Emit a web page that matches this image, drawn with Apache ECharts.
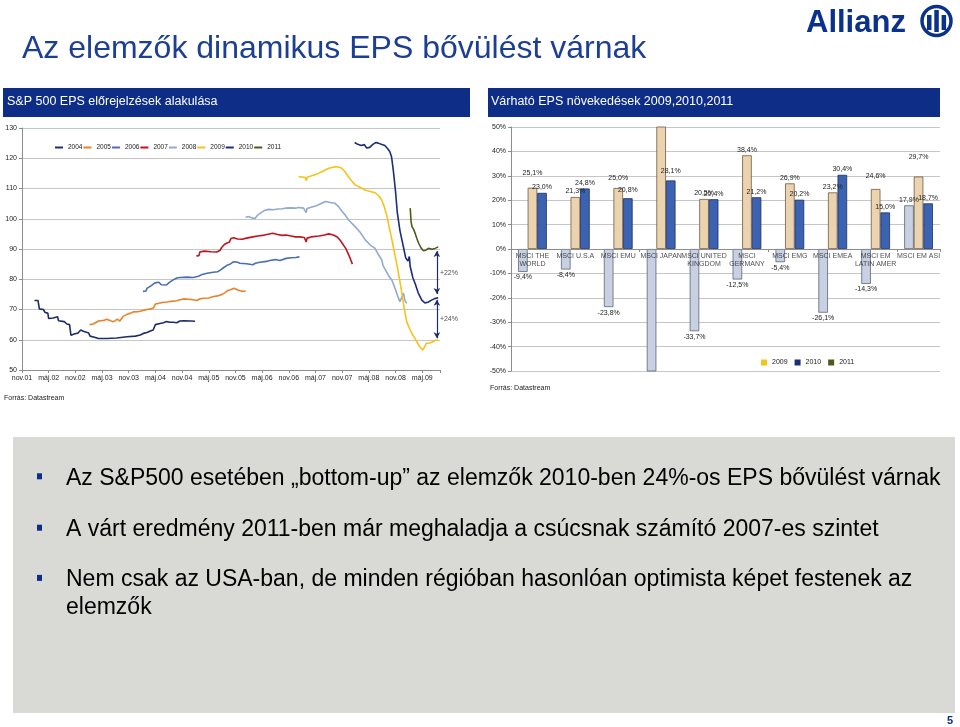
<!DOCTYPE html>
<html lang="hu">
<head>
<meta charset="utf-8">
<title>Az elemzők dinamikus EPS bővülést várnak</title>
<script src="https://cdn.jsdelivr.net/npm/echarts@6.0.0/dist/echarts.min.js"></script>
<style>
  html, body { margin: 0; padding: 0; background: #fff; }
  #chart { width: 960px; height: 727px; }
</style>
</head>
<body>
<div id="chart"></div>
<script>
// bal grafikon: S&P 500 EPS előrejelzések, x = hónapok 2001 novembere óta
const monthTicks = ['nov.01', 'máj.02', 'nov.02', 'máj.03', 'nov.03', 'máj.04', 'nov.04', 'máj.05',
  'nov.05', 'máj.06', 'nov.06', 'máj.07', 'nov.07', 'máj.08', 'nov.08', 'máj.09']
const epsYears = ['2004', '2005', '2006', '2007', '2008', '2009', '2010', '2011']

const eps2004 = [[2.8, 73], [3.6, 73], [3.9, 70.2], [4.8, 70], [5.2, 69], [5.8, 68.8], [6.0, 67], [7.0, 67.2],
  [7.4, 67.8], [8.0, 67.6], [8.2, 66.3], [9.5, 66], [10.1, 65.2], [10.7, 65], [11.0, 61.5], [11.9, 62],
  [12.6, 62.2], [13.2, 63.2], [13.8, 62.8], [14.2, 62.4], [15.0, 62.2], [15.3, 61.2], [16.3, 60.8],
  [17.2, 60.4], [19.0, 60.4], [21.3, 60.6], [23.6, 61], [25.5, 61.2], [26.6, 61.6], [27.5, 62.2],
  [28.1, 62.4], [29.0, 63], [29.5, 63.2], [30.0, 65], [31.0, 65.4], [31.8, 65.6], [32.5, 66], [33.3, 65.8],
  [34.0, 65.8], [34.8, 65.6], [35.5, 66.2], [36.3, 66.3], [38.0, 66.2], [38.9, 66.1]]
const eps2005 = [[15.2, 65], [16.0, 65.2], [16.3, 65.8], [17.2, 66.2], [18.5, 66.4], [19.0, 66.8], [19.8, 66.4],
  [20.3, 66], [20.9, 66.2], [21.4, 66.8], [22.0, 66.2], [22.4, 67], [22.8, 67.8], [23.6, 68.4], [24.5, 68.8],
  [25.0, 69.2], [26.0, 69.3], [26.6, 69.4], [27.5, 69.8], [28.1, 70], [29.0, 70.2], [29.6, 70.6], [30.0, 71.8],
  [30.6, 72], [31.5, 72.3], [32.6, 72.5], [33.5, 72.7], [34.8, 72.9], [35.5, 73.2], [36.3, 73.5], [37.5, 73.4],
  [38.5, 73.2], [39.3, 73], [40.0, 73.5], [40.8, 73.7], [42.0, 73.8], [43.1, 74.3], [44.0, 74.5], [45.0, 75],
  [45.6, 75.5], [46.3, 76.3], [47.0, 76.6], [47.7, 77], [48.3, 76.6], [49.0, 76.2], [49.6, 76], [50.3, 76.1]]
const eps2006 = [[27.2, 76], [27.9, 76.1], [28.1, 77], [29.0, 77.8], [29.9, 78.8], [30.8, 79], [31.3, 78.2],
  [32.5, 78.1], [33.0, 78.8], [33.3, 79.3], [34.0, 79.8], [34.8, 80.4], [35.5, 80.6], [37.1, 80.7], [38.5, 80.6],
  [39.7, 81], [40.5, 81.6], [41.6, 82], [43.0, 82.3], [44.0, 82.5], [44.6, 83], [45.3, 83.8], [46.1, 84.6],
  [46.8, 85], [47.6, 85.8], [48.5, 85.6], [49.0, 85.3], [50.5, 85.1], [51.9, 84.8], [52.5, 85.3], [53.5, 85.6],
  [55.0, 85.9], [55.7, 86.2], [57.0, 86.5], [58.0, 86.2], [59.4, 86.9], [60.5, 87.1], [61.5, 87.2], [62.4, 87.4]]
const eps2007 = [[39.2, 87.7], [39.8, 87.8], [40.0, 89], [41.0, 89.3], [42.5, 89.1], [43.8, 89], [44.5, 89.5],
  [44.9, 90.5], [45.5, 91.5], [46.1, 92], [46.6, 92.2], [47.0, 93.5], [47.6, 93.7], [48.5, 93.3], [49.5, 93.2],
  [50.5, 93.6], [51.9, 94], [53.0, 94.3], [54.5, 94.6], [56.4, 95.2], [57.5, 94.8], [58.5, 94.5], [59.4, 94.6],
  [60.5, 94.3], [61.5, 94], [62.4, 94], [63.5, 93.8], [63.9, 92.3], [64.1, 93.6], [65.0, 94], [66.8, 94.3],
  [68.0, 94.6], [69.0, 95], [70.0, 94.6], [70.9, 94], [71.6, 92.8], [72.8, 90.2], [73.5, 88], [74.3, 85]]
const eps2008 = [[50.3, 100.5], [51.0, 100.7], [51.6, 100.3], [52.4, 100.1], [53.0, 101.2], [53.8, 102],
  [54.5, 102.7], [55.4, 103.1], [56.5, 103], [57.5, 103.2], [58.5, 103.3], [59.2, 103.5], [60.5, 103.6],
  [61.5, 103.5], [62.2, 103.7], [63.3, 103.5], [63.9, 102], [64.1, 103.4], [65.0, 103.8], [66.0, 104.2],
  [66.7, 104.6], [67.5, 105.2], [68.2, 105.7], [69.3, 105.4], [70.4, 105.1], [71.2, 104], [72.0, 102.4],
  [72.7, 101.2], [73.5, 99.5], [74.9, 97.4], [76.0, 95.6], [77.2, 93], [78.3, 91.3], [79.4, 90.2], [80.2, 88],
  [80.9, 86.4], [81.2, 84.5], [81.7, 83.2], [82.5, 81], [83.2, 79.7], [84.0, 76.5], [84.6, 74], [85.0, 72.6],
  [85.4, 74], [85.8, 75.4], [86.1, 73], [86.5, 72]]
const eps2009 = [[62.2, 113.9], [63.0, 113.8], [63.7, 113.6], [63.9, 112.6], [64.2, 113.8], [65.0, 114.1],
  [66.0, 114.6], [66.7, 115], [67.5, 115.6], [68.3, 116.2], [69.0, 116.7], [70.4, 117.2], [71.2, 117.1],
  [71.9, 116.7], [72.6, 115.6], [73.4, 113.9], [74.2, 112.4], [74.9, 111.2], [76.0, 110.4], [77.2, 109.5],
  [78.3, 109], [79.4, 108.6], [80.2, 107.6], [80.9, 106.2], [81.5, 103.8], [82.1, 100.7], [82.6, 97],
  [83.2, 93], [83.8, 88.5], [84.4, 84.2], [85.2, 77.5], [85.9, 70.9], [86.5, 66], [87.1, 63.8], [87.8, 61.8],
  [88.6, 59.9], [89.3, 58], [90.1, 56.6], [90.5, 57.5], [90.9, 58.8], [91.7, 58.9], [92.4, 59.3],
  [93.0, 59.8], [93.6, 59.9]]
const eps2010 = [[74.8, 125.2], [75.5, 124.6], [76.3, 124.2], [77.0, 124.5], [77.5, 123.4], [78.2, 123.6],
  [78.9, 124.6], [79.6, 125.2], [80.1, 125], [80.8, 124.6], [81.6, 124.2], [82.2, 123.2], [82.7, 122.2],
  [83.1, 120.5], [83.5, 116], [84.0, 109], [84.4, 102], [85.0, 96], [85.8, 90.5], [86.3, 87], [86.8, 86],
  [87.1, 87.5], [87.3, 84.2], [87.9, 80.5], [88.4, 78.6], [89.1, 75.5], [89.9, 73.1], [90.6, 72.2],
  [91.3, 72.4], [92.1, 73.1], [92.8, 73.6], [93.6, 73.9]]
const eps2011 = [[87.3, 103.5], [87.5, 99], [87.7, 97.4], [88.1, 96.4], [88.4, 95.2], [88.8, 93.5], [89.2, 91.9],
  [89.8, 90.2], [90.3, 89.4], [90.9, 89.7], [91.4, 90.2], [92.2, 89.9], [92.9, 90.2], [93.6, 90.7]]
const gapTexts = ['+22%', '+24%']

// jobb grafikon: várható EPS növekedés régiónként
const regions = ['MSCI THE\nWORLD', 'MSCI U.S.A', 'MSCI EMU', 'MSCI JAPAN', 'MSCI UNITED\nKINGDOM',
  'MSCI\nGERMANY', 'MSCI EMG', 'MSCI EMEA', 'MSCI EM\nLATIN AMER', 'MSCI EM ASI']
const growthYears = ['2009', '2010', '2011']
const growth2009 = [-9.4, -8.4, -23.8, -58, -33.7, -12.5, -5.4, -26.1, -14.3, 17.9]
const growth2010 = [25.1, 21.3, 25.0, 64, 20.5, 38.4, 26.9, 23.2, 24.6, 29.7]
const growth2011 = [23.0, 24.8, 20.8, 28.1, 20.4, 21.2, 20.2, 30.4, 15.0, 18.7]

const bullets = [
  'Az S&P500 esetében „bottom-up” az elemzők 2010-ben 24%-os EPS bővülést várnak',
  'A várt eredmény 2011-ben már meghaladja a csúcsnak számító 2007-es szintet',
  'Nem csak az USA-ban, de minden régióban hasonlóan optimista képet festenek az\nelemzők',
]

const FONT = '"Liberation Sans", Arial, sans-serif'
const BLUE = '#0E2D86'
const GRID_LINE = '#C6C6C6'
const AXIS_LINE = '#8C8C8C'

const epsColors = ['#1F2C6C', '#E8832C', '#4A6DB4', '#C0141E', '#92A9D1', '#F4C41A', '#1B2E78', '#4E591C']
const epsSeries = [eps2004, eps2005, eps2006, eps2007, eps2008, eps2009, eps2010, eps2011]
const barFill = ['#C8D0E2', '#ECD3AF', '#3B63B2']
const barBorder = ['#5B667E', '#6E5A44', '#1E2F63']
const growthSeries = [growth2009, growth2010, growth2011]
// néhány címke az eredetin feljebb csúszott (sorozat-kategória: px)
const labelLift = { '1-0': 9, '1-2': 4, '2-2': 3, '2-3': 4, '1-8': 7, '1-9': 14 }

const pct = (v) => v.toFixed(1).replace('.', ',') + '%'
const last = (arr) => arr[arr.length - 1]

// a +22% / +24% nyilak a sorozatok végpontjai között
const arrowX = 93.3
const gaps = [
  [last(eps2011)[1] - 1.4, last(eps2010)[1] + 1.2],
  [last(eps2010)[1] - 0.7, last(eps2009)[1] + 0.6],
]

const lineSeries = epsSeries.map((data, i) => ({
  name: epsYears[i],
  type: 'line',
  xAxisIndex: 0,
  yAxisIndex: 0,
  data,
  symbol: 'none',
  lineStyle: { width: 1.6, color: epsColors[i] },
  itemStyle: { color: epsColors[i] },
  z: 3,
}))

const gapSeries = {
  name: 'gap',
  type: 'scatter',
  xAxisIndex: 0,
  yAxisIndex: 0,
  symbolSize: 0,
  silent: true,
  data: gaps.map((g, i) => ({
    value: [arrowX, (g[0] + g[1]) / 2],
    label: { show: true, position: 'right', distance: 3, formatter: gapTexts[i] },
  })),
  label: { fontSize: 7, color: '#222', fontFamily: FONT },
  markLine: {
    silent: true,
    symbol: ['arrow', 'arrow'],
    symbolSize: [5, 6],
    label: { show: false },
    lineStyle: { color: '#1F2C6C', width: 1.2, type: 'solid' },
    data: gaps.map((g) => [{ coord: [arrowX, g[0]] }, { coord: [arrowX, g[1]] }]),
  },
}

const barSeries = growthSeries.map((vals, s) => ({
  name: growthYears[s],
  type: 'bar',
  xAxisIndex: 1,
  yAxisIndex: 1,
  barGap: '0%',
  barCategoryGap: '33%',
  itemStyle: { color: barFill[s], borderColor: barBorder[s], borderWidth: 0.8 },
  label: { fontSize: 7, color: '#222', fontFamily: FONT, distance: 2, formatter: (p) => pct(p.value) },
  data: vals.map((v, c) => ({
    value: v,
    label: {
      show: Math.abs(v) <= 50,
      position: v < 0 ? 'bottom' : 'top',
      offset: [0, -(labelLift[s + '-' + c] || 0)],
    },
  })),
  z: 2,
}))

// kategórianevek a 0%-os vonal alatt, ahogy az Excel-ábrán
const regionLabelSeries = {
  name: 'regions',
  type: 'scatter',
  xAxisIndex: 1,
  yAxisIndex: 1,
  symbolSize: 0,
  silent: true,
  z: 6,
  data: regions.map((r) => [r, 0]),
  label: {
    show: true, position: 'bottom', distance: 3,
    fontSize: 7, lineHeight: 8, color: '#222', fontFamily: FONT,
    formatter: (p) => p.value[0],
  },
}

const graphic = [
  { type: 'text', x: 22, y: 49, style: { text: 'Az elemzők dinamikus EPS bővülést várnak', fontSize: 32,
      fontFamily: FONT, fill: '#1C3F94', verticalAlign: 'middle' } },
  // Allianz logó
  { type: 'text', x: 806, y: 23, style: { text: 'Allianz', fontSize: 31, fontWeight: 'bold',
      fontFamily: FONT, fill: '#0A318C', verticalAlign: 'middle' } },
  { type: 'circle', shape: { cx: 936.5, cy: 21, r: 14.5 }, style: { fill: 'none', stroke: '#0A318C', lineWidth: 3.5 } },
  { type: 'rect', shape: { x: 927, y: 15, width: 4.5, height: 15 }, style: { fill: '#0A318C' } },
  { type: 'rect', shape: { x: 934.3, y: 10, width: 4.5, height: 22 }, style: { fill: '#0A318C' } },
  { type: 'rect', shape: { x: 941.6, y: 15, width: 4.5, height: 15 }, style: { fill: '#0A318C' } },
  // fejlécsávok
  { type: 'rect', shape: { x: 3, y: 88, width: 467, height: 29 }, style: { fill: BLUE } },
  { type: 'rect', shape: { x: 488, y: 88, width: 452, height: 29 }, style: { fill: BLUE } },
  { type: 'text', x: 7, y: 102, style: { text: 'S&P 500 EPS előrejelzések alakulása', fontSize: 12.5,
      fontFamily: FONT, fill: '#fff', verticalAlign: 'middle' } },
  { type: 'text', x: 491, y: 102, style: { text: 'Várható EPS növekedések 2009,2010,2011', fontSize: 12.5,
      fontFamily: FONT, fill: '#fff', verticalAlign: 'middle' } },
  { type: 'text', x: 4, y: 398, style: { text: 'Forrás: Datastream', fontSize: 7, fontFamily: FONT,
      fill: '#222', verticalAlign: 'middle' } },
  { type: 'text', x: 490, y: 388, style: { text: 'Forrás: Datastream', fontSize: 7, fontFamily: FONT,
      fill: '#222', verticalAlign: 'middle' } },
  // alsó szövegdoboz
  { type: 'rect', shape: { x: 13, y: 437, width: 942, height: 276 }, style: { fill: '#D9D9D6' } },
  { type: 'text', x: 947, y: 721, style: { text: '5', fontSize: 11, fontWeight: 'bold', fontFamily: FONT,
      fill: BLUE, verticalAlign: 'middle' } },
]
const bulletY = [476.3, 527.7, 577.9]
bullets.forEach((t, i) => {
  graphic.push({ type: 'rect', shape: { x: 37, y: bulletY[i] - 3, width: 5, height: 6 }, style: { fill: BLUE } })
  graphic.push({ type: 'text', x: 66, y: bulletY[i] + 2 - 13.8, style: { text: t, fontSize: 23, lineHeight: 27.6,
      fontFamily: FONT, fill: '#000', verticalAlign: 'top' } })
})

const option = {
  animation: false,
  backgroundColor: '#fff',
  textStyle: { fontFamily: FONT },
  graphic,
  grid: [
    { left: 22, top: 128, width: 418, height: 242 },
    { left: 511, top: 127, width: 429, height: 244 },
  ],
  legend: [
    {
      data: epsYears,
      left: 50, top: 139,
      itemWidth: 8, itemHeight: 2, itemGap: 1,
      icon: 'rect',
      textStyle: { fontSize: 6.5, color: '#222' },
    },
    {
      data: growthYears,
      left: 756, top: 354,
      itemWidth: 6, itemHeight: 6, itemGap: 7,
      icon: 'rect',
      textStyle: { fontSize: 7, color: '#222' },
    },
  ],
  xAxis: [
    {
      gridIndex: 0, type: 'value', min: 0, max: 94, interval: 6,
      splitLine: { show: false },
      axisLine: { lineStyle: { color: AXIS_LINE } },
      axisTick: { show: true, length: 3, lineStyle: { color: AXIS_LINE } },
      axisLabel: { fontSize: 7, color: '#222', margin: 5,
        formatter: (v) => (v % 6 === 0 ? monthTicks[v / 6] || '' : '') },
    },
    {
      gridIndex: 1, type: 'category', data: regions, z: 5,
      axisLine: { onZero: true, lineStyle: { color: AXIS_LINE } },
      axisTick: { show: true, length: 3, lineStyle: { color: AXIS_LINE } },
      axisLabel: { show: false },
    },
  ],
  yAxis: [
    {
      gridIndex: 0, type: 'value', min: 50, max: 130, interval: 10,
      axisLine: { show: true, lineStyle: { color: AXIS_LINE } },
      axisTick: { show: true, length: 3, lineStyle: { color: AXIS_LINE } },
      splitLine: { lineStyle: { color: GRID_LINE } },
      axisLabel: { fontSize: 7, color: '#222', margin: 5 },
    },
    {
      gridIndex: 1, type: 'value', min: -50, max: 50, interval: 10,
      axisLine: { show: true, lineStyle: { color: AXIS_LINE } },
      axisTick: { show: true, length: 3, lineStyle: { color: AXIS_LINE } },
      splitLine: { lineStyle: { color: GRID_LINE } },
      axisLabel: { fontSize: 7, color: '#222', margin: 5, formatter: '{value}%' },
    },
  ],
  series: [...lineSeries, gapSeries, ...barSeries, regionLabelSeries],
}

const chart = echarts.init(document.getElementById('chart'))
chart.setOption(option)
window.addEventListener('resize', () => chart.resize())
</script>
</body>
</html>
